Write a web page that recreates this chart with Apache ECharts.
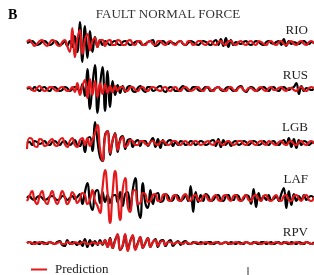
<!DOCTYPE html>
<html><head><meta charset="utf-8">
<script src="https://cdn.jsdelivr.net/npm/echarts@6/dist/echarts.min.js"></script>
<style>html,body{margin:0;padding:0;background:#fff}#c{width:314px;height:275px}</style>
</head><body><div id="c"></div>
<script>
var stations = ['RIO', 'RUS', 'LGB', 'LAF', 'RPV'];
var titleText = 'FAULT NORMAL FORCE';
var panelLetter = 'B';
var legendLabel = 'Prediction';

var rioObs = [0,1,2,0,-2,-1,1,2,0,-2, -1,2,1,-2,-1,2,-3,2,-4,7, -9,21,-19,17,-15,12,-9,6,-4,3, -2,2,0,-2,1,2,-1,-2,1,2, 0,-2,-1,1,2,0,-2,-1,1,2, 3,-3,-2,1,2,0,-1,1,0,-1, 1,2,-1,-2,0,2,1,-1,-2,0, 2,1,-1,-2,1,3,-2,4,-3,5, -4,3,-2,1,0,-1,1,2,-1,-2, 0,2,1,-1,-2,1,2,0,-1,1, 2,-2,4,-3,2,-1,1,0,-1,1, 2,0,-1,1,0];
var rioPred = [1,3,0,-3,-1,2,3,-1,-3,0, 3,2,-2,-3,1,3,-3,-9,15,-14, 4,13,-11,3,9,-7,2,5,-4,3, 3,-3,2,3,-2,-2,3,2,-2,-2, 2,3,-1,-2,2,2,-2,-2,1,2, -1,-2,2,2,-1,-2,1,2,-1,-2, 1,2,-1,-2,2,1,-2,-1,2,2, -1,-2,1,2,-1,-2,1,2,-1,-2, 2,2,-1,-2,1,2,-1,-2,1,2, -1,-2,2,1,-1,-2,1,2,-1,-2, 1,2,-1,-2,1,2,-1,-2,1,2, -1,-2,1,2,-1];
var rusObs = [0,1,-1,2,0,-2,1,2,-1,-2, 1,2,0,-2,-1,2,1,-2,0,2, 1,-3,5,-7,20,-20,4,24,-24,3, 22,-22,18,-18,8,-6,4,-4,3,-3, 2,3,-2,-3,1,3,-1,-3,2,2, -2,-1,2,3,-1,-3,0,2,1,-2, -2,1,3,0,-2,-1,2,2,-1,-2, 0,2,1,-2,-1,1,2,-1,-2,1, 2,0,-2,-1,2,3,-1,-3,0,2, 1,-2,-1,1,2,0,-2,1,2,-1, -2,1,2,0,-1,1,2,6,-5,3, -2,1,0,-1,1];
var rusPred = [1,2,-1,-2,1,3,0,-2,-1,2, 2,-1,-2,1,2,0,-2,-1,2,-3, 6,-6,3,9,-9,10,-6,8,-8,6, -5,5,-4,3,-3,3,-2,2,2,-2, -2,2,2,-1,-2,1,2,-1,-2,1, 2,1,-1,-2,1,2,-1,-2,1,2, -1,-2,1,2,0,-2,-1,1,2,-1, -2,1,2,-1,-2,1,2,0,-1,-2, 1,2,-1,-2,1,2,-1,-2,1,1, -1,-2,1,2,-1,-2,1,2,-1,-1, 1,2,-1,-2,1,1,-1,-2,1,2, -1,-2,1,2,0];
var lgbObs = [0,1,-2,2,1,-1,0,2,-1,-2, 1,2,0,-2,1,2,-1,-2,0,3, -2,-3,3,-9,4,6,-8,21,2,-14, -18,8,12,-12,2,10,-9,4,7,-6, 3,4,-4,1,3,-3,2,2,-3,1, 5,-4,4,-5,3,-2,2,3,-3,1, -2,2,1,-2,-1,2,1,-2,0,2, 1,-2,-1,2,3,-3,4,-4,3,-2, 2,-3,1,2,-2,-1,2,1,-2,0, 2,1,-2,-1,2,0,-2,1,2,-1, -2,1,3,-2,5,-4,4,-5,3,-2, 2,1,-2,0,1];
var lgbPred = [-6,5,4,-3,-4,4,3,-3,-2,2, 4,-2,-3,3,5,-1,-4,2,5,-2, -4,3,5,-2,5,-3,3,10,18,-6, -18,6,12,-10,3,9,-7,2,6,-4, -2,3,2,-2,-2,2,2,-1,-2,1, 2,-1,-2,1,2,0,-2,-1,2,2, -1,-2,1,2,-1,-2,1,2,0,-2, -1,1,2,-1,-2,1,2,-1,-2,1, 2,0,-2,-1,2,2,-1,-2,1,2, -1,-2,1,2,-1,-2,2,1,-1,-2, 1,2,-1,-2,1,2,-1,-2,1,2, -1,-2,1,2,-1];
var lafObs = [0,2,-1,-2,1,2,0,-2,-1,1, 2,0,-2,-1,2,1,-2,0,2,-1, 1,4,-6,6,15,-4,-12,5,8,-5, 6,-4,3,-5,2,3,-4,6,-8,4, 6,-12,8,20,-8,-20,15,-5,-10,8, -6,3,5,-4,-3,4,2,-3,-2,3, 2,-3,-1,2,-3,12,-14,6,-4,3, -3,4,2,-3,-2,2,3,-2,-3,2, 3,-2,-2,3,2,-3,-1,3,2,-6, 9,-9,5,-3,2,-2,3,-2,-1,2, -3,4,10,-10,7,-7,4,-3,2,-2, 3,-2,1,2,-1];
var lafPred = [-3,2,7,-2,-6,2,7,-2,-6,1, 7,-1,-6,0,7,1,-6,-2,6,2, -5,-1,5,3,-6,-2,8,-3,-8,-15, 10,28,5,-25,5,27,2,-22,8,20, -8,-14,6,8,-6,-5,5,4,-4,-3, 3,4,-3,-3,3,4,-2,-3,2,3, -2,-3,2,4,-1,-3,2,3,-2,-3, 2,3,-2,-3,1,3,-2,-3,2,3, -1,-3,2,3,-2,-3,1,3,-2,-3, 2,3,-1,-3,2,3,-2,-3,1,3, -2,-3,2,3,-2,-3,2,3,-1,-3, 2,3,-2,-3,1];
var rpvObs = [0,1,-1,1,0,-1,1,0,-1,1, 0,-1,1,2,-2,-3,3,-1,1,0, -2,2,-3,4,-4,3,-3,2,-2,3, -2,3,-4,5,-5,3,8,-7,-3,8, -7,2,7,-6,0,6,-5,0,5,-4, 1,4,-4,2,3,-3,1,3,-3,0, 2,-2,1,2,-1,-1,1,0,-1,1, 0,-1,1,1,-1,0,1,-1,0,1, -1,1,0,-1,1,0,-1,1,0,-1, 1,0,-1,1,1,-1,0,1,-1,0, 1,-1,1,0,-1,1,0,-1,1,0, -1,1,0,-1,1];
var rpvPred = [0,1,0,-1,0,1,0,-1,0,1, 0,-1,0,1,-1,-1,1,0,-1,1, 0,-1,1,1,-1,-1,1,0,-1,1, -1,3,-4,4,-5,2,9,-7,-2,9, -8,1,8,-7,-1,6,-5,0,5,-4, 1,3,-3,1,2,-2,1,1,-1,0, 1,0,-1,1,0,-1,0,1,0,-1, 0,1,0,-1,0,1,0,-1,0,1, 0,-1,0,1,0,-1,0,1,0,-1, 0,1,0,-1,0,1,0,-1,0,1, 0,-1,0,1,0,-1,0,1,0,-1, 0,1,0,-1,0];

var observed = [rioObs, rusObs, lgbObs, lafObs, rpvObs];
var predicted = [rioPred, rusPred, lgbPred, lafPred, rpvPred];

var baselines = [43, 89, 143, 198, 243];
var labelY = [31, 76, 128, 180, 233];
var half = 30;
var idx = rioObs.map(function (_, i) { return i; });

var grids = [], xAxes = [], yAxes = [], series = [], graphics = [];
for (var k = 0; k < 5; k++) {
  grids.push({ left: 27, right: 0, top: baselines[k] - half, height: half * 2 });
  xAxes.push({ type: 'category', data: idx, boundaryGap: false, gridIndex: k, show: false });
  yAxes.push({ type: 'value', min: -half, max: half, gridIndex: k, show: false });
  series.push({ name: 'Observed', type: 'line', xAxisIndex: k, yAxisIndex: k, data: observed[k],
    showSymbol: false, smooth: 0.5, clip: false, lineStyle: { color: '#000', width: 2.2 }, itemStyle: { color: '#000' }, z: 2 });
  series.push({ name: legendLabel, type: 'line', xAxisIndex: k, yAxisIndex: k, data: predicted[k],
    showSymbol: false, smooth: 0.5, clip: false, lineStyle: { color: '#e3191c', width: 2.2 }, itemStyle: { color: '#e3191c' }, z: 3 });
  graphics.push({ type: 'text', x: 308, y: labelY[k],
    style: { text: stations[k], font: '13px "Liberation Serif"', fill: '#222', textAlign: 'right', textVerticalAlign: 'middle' } });
}
graphics.push({ type: 'text', x: 168, y: 15, style: { text: titleText, font: '13px "Liberation Serif"', fill: '#333', textAlign: 'center', textVerticalAlign: 'middle' } });
graphics.push({ type: 'text', x: 8, y: 15, style: { text: panelLetter, font: 'bold 14px "Liberation Serif"', fill: '#000', textVerticalAlign: 'middle' } });
graphics.push({ type: 'line', shape: { x1: 248, y1: 267, x2: 248, y2: 275 }, style: { stroke: '#333', lineWidth: 1 } });

var chart = echarts.init(document.getElementById('c'), null, { renderer: 'canvas' });
chart.setOption({
  animation: false,
  grid: grids, xAxis: xAxes, yAxis: yAxes, series: series,
  legend: { data: [legendLabel], left: 31, top: 263, padding: 0, icon: 'rect', itemWidth: 16, itemHeight: 2, itemGap: 8,
    textStyle: { fontFamily: 'Liberation Serif', fontSize: 13, color: '#222', padding: [0,0,0,3] } },
  graphic: graphics
});
</script></body></html>
